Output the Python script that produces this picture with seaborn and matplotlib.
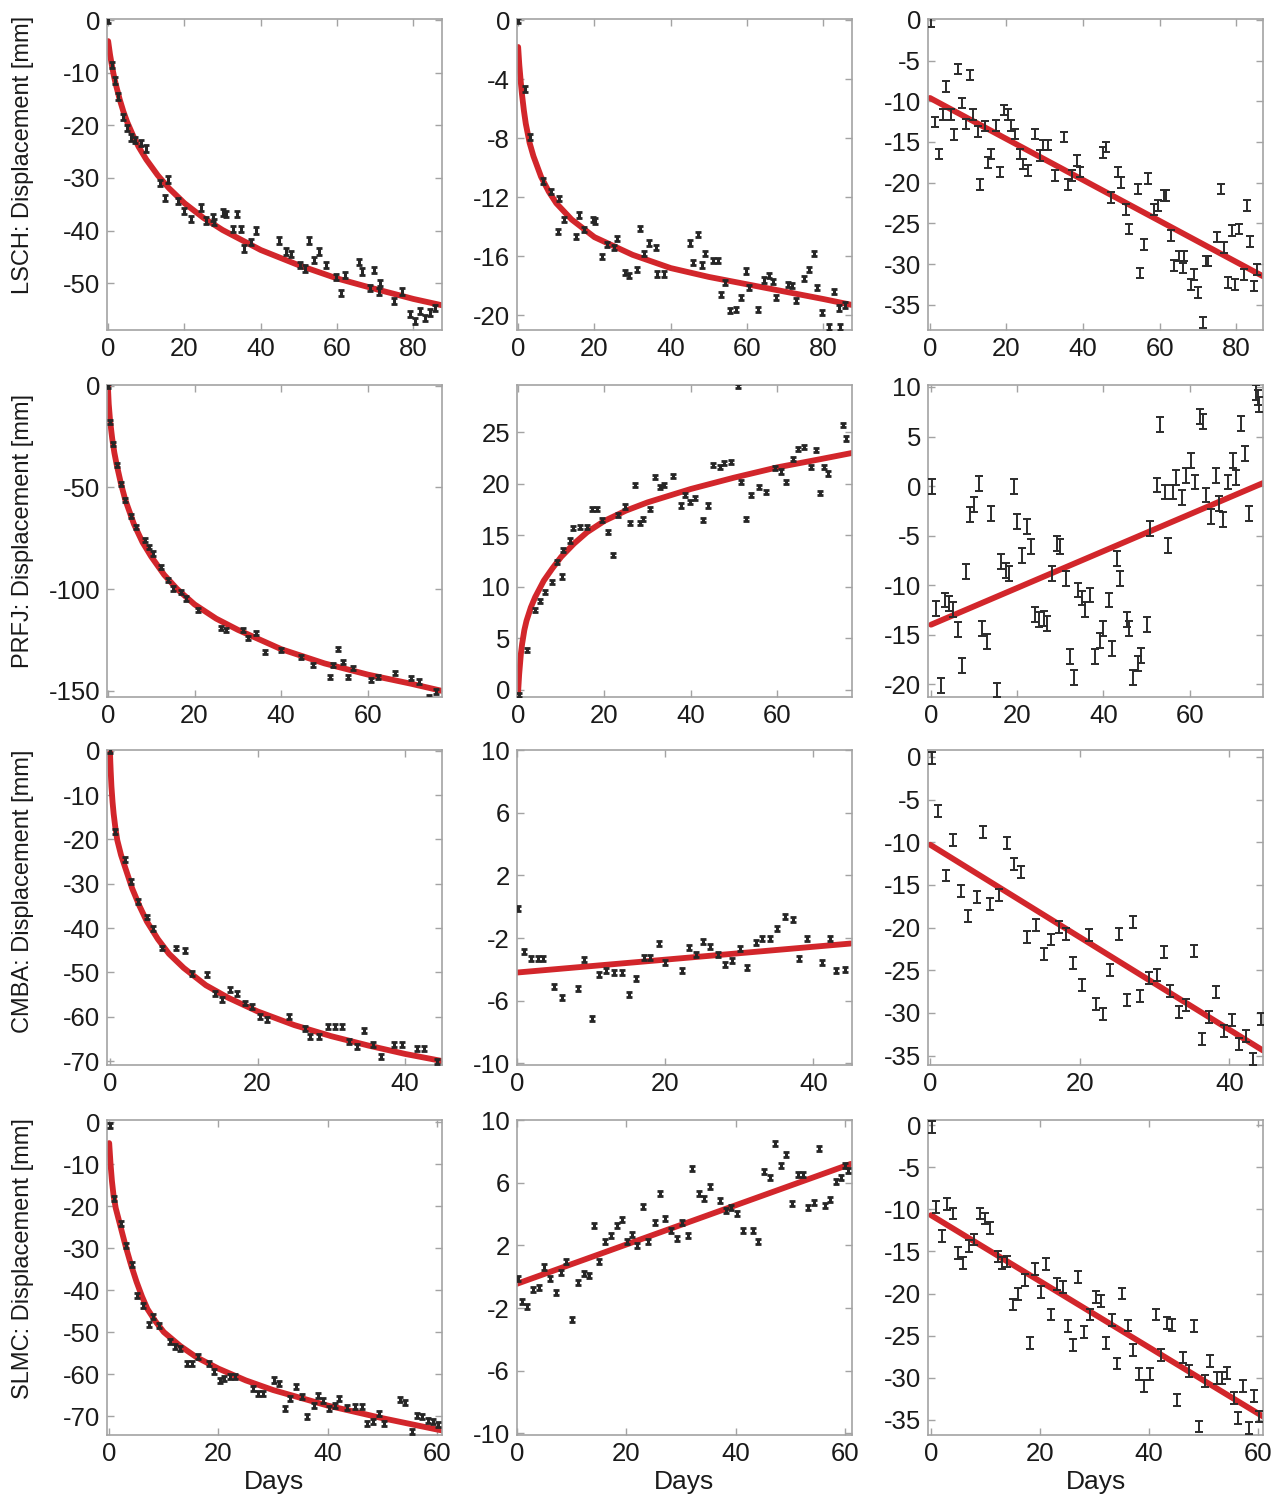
import matplotlib
matplotlib.use("Agg")
import matplotlib.pyplot as plt
import seaborn as sns

stations = ["LSCH", "PRFJ", "CMBA", "SLMC"]

# ---- LSCH ----
lsch_e_t = [0, 1, 1.7, 2.5, 3.9, 5, 6, 7, 8.7, 10, 13.5, 14.8, 15.6, 18.3, 20, 21.7, 24.3, 25.6,
            27.5, 27.8, 30, 30.8, 32.6, 33.9, 34.8, 35.7, 37.4, 38.7, 44.8, 46.5, 47.8, 50.4, 51.7,
            52.6, 53.9, 55.2, 57, 59.6, 60.9, 62.2, 65.7, 66.5, 68.7, 69.6, 70.9, 71.3, 74.8, 77,
            79.1, 80.4, 81.7, 83, 84.3, 85.7]
lsch_e_v = [0, -8.5, -11.5, -14.5, -18.4, -20.5, -22.3, -22.8, -23.4, -24.4, -31, -33.8, -30.3, -34.4,
            -36.3, -37.8, -35.6, -38.1, -37.5, -38.4, -36.6, -36.8, -39.7, -36.9, -39.7, -43.4, -42.2,
            -40, -41.9, -44, -44.4, -46.6, -47.2, -41.9, -45.6, -44, -46.6, -48.8, -51.9, -48.4, -46,
            -47.8, -50.9, -47.5, -51.6, -50, -53.4, -51.6, -55.9, -57.2, -55.3, -56.6, -55.6, -54.7]
lsch_e_fit_t = [0, 0.5, 1, 1.5, 2, 3, 4, 5, 6.5, 8, 10, 13, 16, 20, 25, 30, 40, 50, 60, 70, 80, 87.5]
lsch_e_fit_v = [-4, -6.6, -8.7, -10.6, -12.2, -15.0, -17.4, -19.4, -21.9, -24.1, -26.5, -29.5,
                -32.0, -34.8, -37.6, -39.9, -43.7, -46.6, -49.1, -51.1, -53.0, -54.2]

lsch_n_t = [0, 1.7, 3, 6.5, 8.7, 10.8, 10.4, 12.1, 15.2, 16, 17.3, 19.5, 20.2, 22, 23.4, 25.1, 26,
            28.1, 29, 31.2, 32, 32.9, 34.2, 36, 36.4, 38.1, 45, 45.9, 47.2, 48.1, 48.9, 51.1, 52.4,
            53.2, 54.1, 55.4, 57.1, 58.4, 59.7, 60.6, 62.8, 64.5, 65.8, 66.7, 67.5, 70.6, 71.9, 72.7,
            74.9, 76.2, 77.5, 78.4, 79.7, 81.4, 82.7, 84, 84.4, 85.7]
lsch_n_v = [0, -4.65, -7.9, -10.9, -11.6, -12.1, -14.3, -13.5, -14.65, -13.2, -14.2, -13.5, -13.6,
            -16, -15.2, -15.4, -14.8, -17.1, -17.3, -16.9, -14.1, -15.8, -15.1, -15.4, -17.2, -17.2,
            -15.1, -16.4, -14.5, -16.6, -15.8, -16.3, -16.3, -18.6, -17.8, -19.7, -19.6, -18.8, -17,
            -18.1, -19.6, -17.6, -17.3, -17.7, -18.8, -17.9, -18, -19, -17.5, -16.9, -15.8, -18.1,
            -19.8, -20.8, -18.4, -19.5, -20.8, -19.3]
lsch_n_fit_t = [0, 0.3, 0.7, 1, 1.5, 2, 3, 4, 6, 8, 10, 14, 20, 30, 40, 50, 60, 70, 80, 87.5]
lsch_n_fit_v = [-1.8, -3.0, -4.2, -5.0, -6.1, -7.0, -8.3, -9.2, -10.6, -11.6, -12.4, -13.5, -14.7,
                -15.9, -16.8, -17.4, -17.9, -18.4, -18.9, -19.3]

lsch_u_t = [0.4, 1.2, 2.3, 3.5, 4.3, 5.4, 6.2, 7.4, 8.4, 9.3, 10.4, 11.3, 12.5, 13.2, 14.5, 15.3, 16,
            17.3, 18.2, 19.4, 20.3, 21.1, 22.3, 23.5, 24.4, 25.7, 27.4, 28.7, 29.6, 30.9, 32.6, 35.1,
            36.1, 37, 38.3, 39.1, 45.2, 46.1, 47.4, 49.1, 50, 51.1, 52.1, 54.3, 54.9, 56, 56.9, 58.6,
            59.7, 61.2, 61.6, 62.9, 63.8, 65.1, 66.4, 66, 68.1, 69, 69.9, 71.2, 72, 72.7, 75.1, 75.9,
            76.8, 77.9, 78.9, 79.8, 80.7, 82, 82.9, 83.7, 84.6, 85.5]
lsch_u_v = [-0.2, -12.55, -16.5, -11.6, -8.2, -11.6, -14.1, -6.05, -10.2, -12.8, -6.8, -11.6, -13.7,
            -20.2, -13.05, -17.5, -16.5, -13, -18.7, -11.1, -11.6, -13, -14, -16.5, -17.7, -18.5, -14,
            -16.7, -15.4, -15.4, -19.1, -14.4, -20.2, -19.1, -17.3, -18.7, -16.3, -15.6, -21.8, -18.7,
            -20, -23.3, -25.7, -20.8, -31.1, -27.6, -19.5, -23.3, -22.8, -21.6, -21.6, -26.5, -30.2,
            -29, -29, -30.5, -32.5, -31.3, -33.5, -37.2, -29.6, -29.6, -26.7, -20.8, -28, -32.3, -25.9,
            -32.5, -25.7, -31.3, -22.8, -27.2, -32.7, -30.7]
lsch_u_fit_t = [0, 87]
lsch_u_fit_v = [-9.6, -31.5]

# ---- PRFJ ----
prfj_e_t = [0, 0.5, 1.2, 2, 3, 4, 5.4, 6.5, 8.5, 9.6, 10.4, 12.3, 13.8, 15, 16.9, 18.1, 20.8, 26.2,
            27.3, 31.2, 32.3, 34.2, 36.2, 40, 44.6, 47.3, 51.2, 51.9, 53.1, 54.2, 55.4, 56.5, 60.8,
            62.3, 66.2, 70, 71.9, 74.2, 75.8]
prfj_e_v = [0, -18, -28.6, -39, -48.5, -56, -64, -69.5, -76, -79.5, -82.5, -89, -95.6, -99.7,
            -101.3, -104.6, -110.3, -119.3, -120.1, -120.1, -124.2, -121.7, -130.7, -129.9, -133.2,
            -137.3, -143, -137.3, -129.6, -135.6, -143, -138.9, -144.6, -143, -141.3, -143.8, -145.4,
            -152.8, -150.3]
prfj_e_fit_t = [0, 0.2, 0.5, 1, 1.5, 2, 3, 4, 6, 8, 10, 13, 16, 20, 25, 30, 40, 50, 60, 70, 77.1]
prfj_e_fit_v = [0, -9, -17, -26, -33, -38.5, -48, -56, -68, -77, -84, -93, -100, -107.5, -114.5,
                -120, -129.5, -136.5, -142, -146.5, -150]

prfj_n_t = [0.15, 2.1, 4, 5.2, 6.3, 7.8, 10.2, 9, 10.5, 12.1, 12.8, 14.4, 15.9, 17.1, 18.2, 19.4,
            20.9, 22.1, 23.2, 24.8, 25.9, 27.1, 28.2, 29, 30.5, 31.7, 32.8, 33.8, 35.9, 37.8, 38.6,
            39.8, 40.9, 42.8, 44, 45.2, 46.7, 47.8, 49.4, 50.9, 51.7, 52.8, 54, 55.9, 57.5, 59.4,
            60.9, 62.1, 63.6, 64.8, 66.3, 67.8, 69, 69.8, 70.9, 71.7, 75.2, 75.9]
prfj_n_v = [-0.5, 3.9, 7.75, 8.6, 9.5, 10.5, 11, 12.4, 13.6, 14.5, 15.7, 15.8, 15.8, 17.6, 17.6,
            16.5, 15.3, 13.1, 17, 17.8, 16.2, 19.9, 16.2, 16.6, 17.6, 20.7, 19.7, 19.9, 20.8, 17.9,
            18.9, 18.2, 18.6, 16.5, 17.9, 21.8, 21.6, 22, 22.1, 29.5, 20.2, 16.6, 18.9, 19.7, 19.2,
            21.5, 21.2, 20.2, 22.4, 23.4, 23.6, 21.6, 23.3, 19.1, 21.6, 21, 25.7, 24.4]
prfj_n_fit_t = [0, 0.3, 0.7, 1, 1.5, 2, 3, 4, 6, 8, 10, 13, 16, 20, 25, 30, 40, 50, 60, 70, 77.3]
prfj_n_fit_v = [-0.6, 1.5, 3.5, 4.5, 5.8, 6.7, 8, 9, 10.6, 11.8, 12.9, 14.2, 15.3, 16.4, 17.4, 18.2,
                19.5, 20.6, 21.6, 22.4, 23]

prfj_u_t = [0.15, 1.2, 2.3, 3.2, 4.2, 5, 6.2, 7.3, 8.1, 9.1, 10, 11.2, 11.9, 13.1, 14, 15.2, 16.2,
            17.3, 18.1, 19.2, 20, 21.2, 22.2, 23.1, 24.2, 25, 26.2, 26.9, 28.1, 29.2, 30, 31.2, 32.3,
            33.1, 34.2, 35, 35.8, 36.9, 38.1, 39.2, 40, 41.2, 41.9, 43.1, 43.8, 45.4, 46, 46.9, 48.1,
            48.8, 50, 50.8, 52.3, 53.1, 54.2, 55, 56.2, 56.9, 58.1, 59.2, 60.2, 61.2, 62.3, 63.1,
            63.8, 65, 66, 66.9, 67.8, 68.8, 70, 70.8, 71.9, 72.9, 73.8, 75.4, 75.8, 76]
prfj_u_v = [-0.07, -12.4, -20.1, -11.5, -11.9, -12.5, -14.5, -18.1, -8.65, -2.9, -1.9, 0.27, -14.4,
            -15.7, -2.8, -20.6, -7.6, -8.5, -8.8, -0.07, -3.6, -7, -4.1, -6.1, -13, -13.5, -13.4,
            -13.9, -8.8, -5.8, -6.1, -9.3, -17.2, -19.3, -10.5, -11.3, -12.5, -11, -17.2, -15.6, -14.4,
            -11.5, -16.4, -7.3, -9.3, -13.5, -14.4, -19.3, -17.9, -17.1, -14, -4.3, 0.1, 6.2, -0.6, -6,
            -0.6, 0.9, -1.2, 1.1, 2.6, 0.4, 7, 6.5, -0.9, -3.1, 1.1, -1.75, -3.4, 0.4, 2.6, 0.9, 6.3,
            3.3, -2.8, 9.4, 8.9, 8.2]
prfj_u_fit_t = [0, 77]
prfj_u_fit_v = [-14.0, 0.3]

# ---- CMBA ----
cmba_e_t = [0, 0.7, 2, 2.9, 3.8, 5, 5.9, 7, 9, 10.2, 11.1, 13.1, 14.3, 15.2, 16.3, 17.2, 18.3,
            19.2, 20.4, 21.3, 24.2, 26.5, 27.1, 28.3, 29.6, 30.5, 31.4, 32.4, 33.5, 34.4, 35.7, 36.7,
            38.5, 39.6, 41.6, 42.5, 44.3]
cmba_e_v = [0, -18.2, -24.5, -29.5, -34, -37.5, -40, -44.5, -44.5, -45.1, -50.2, -50.5, -54.7,
            -56.2, -53.9, -54.7, -56.9, -57.7, -59.9, -60.7, -59.9, -62.6, -64.4, -64.4, -62.2, -62.2,
            -62.2, -65.6, -66.7, -63.2, -66.3, -68.9, -66.3, -66.2, -67.1, -67.1, -70.1]
cmba_e_fit_t = [0, 0.05, 0.1, 0.2, 0.35, 0.5, 0.75, 1, 1.5, 2, 3, 4, 5, 6.5, 8, 10, 13, 16, 20,
                25, 30, 35, 40, 45]
cmba_e_fit_v = [0, -2.5, -4.5, -8, -11.5, -14.2, -17.6, -20.2, -23.5, -26, -31, -35, -38.5, -42.5,
                -45.8, -49, -52.9, -55.7, -58.8, -61.9, -64.4, -66.5, -68.4, -70]

cmba_n_t = [0.1, 1, 1.9, 2.8, 3.5, 5, 6.1, 8.2, 9.1, 10.1, 11.1, 12, 13.1, 14.2, 15.1, 16.1, 17.1,
            18, 19.1, 20, 22.2, 23.2, 24.1, 25.1, 26.1, 27.1, 28.1, 29, 30.1, 31.1, 32.2, 33, 34.1,
            35.1, 36.1, 37.2, 38.1, 39.1, 41.1, 42.2, 43.1, 44.2]
cmba_n_v = [-0.13, -2.86, -3.33, -3.33, -3.33, -5.07, -5.78, -5.2, -3.37, -7.16, -4.35, -4.07,
            -4.18, -4.18, -5.63, -4.56, -3.22, -3.22, -2.37, -3.58, -4.07, -2.58, -3.07, -2.22, -2.54,
            -3.07, -3.71, -3.43, -2.64, -3.86, -2.3, -2.05, -2.05, -1.36, -0.62, -0.83, -3.33, -2,
            -3.58, -2, -4.07, -4.03]
cmba_n_fit_t = [0, 45]
cmba_n_fit_v = [-4.2, -2.35]

cmba_u_t = [0.2, 1.1, 2.1, 3.1, 4.1, 5.1, 6.2, 7.1, 8, 9.2, 10.2, 11.2, 12.1, 13, 14.2, 15.2, 16.2,
            17.2, 18.1, 19.1, 20.3, 21.2, 22.1, 23.1, 24.1, 25.2, 26.3, 27.1, 28.1, 29.2, 30.3, 31.3,
            32.1, 33.3, 34.2, 35.3, 36.3, 37.3, 38.2, 39.3, 40.3, 41.3, 42.2, 43.2, 44.2]
cmba_u_v = [-0.16, -6.4, -13.9, -9.7, -15.7, -18.6, -16.4, -8.85, -17.2, -16.2, -10.1, -12.5, -13.5,
            -21.1, -19.7, -23.1, -21.4, -19.9, -20.8, -24.2, -26.7, -20.9, -28.9, -30.1, -25, -20.8,
            -28.5, -19.3, -28, -25.9, -25.6, -22.9, -27.4, -29.9, -29.1, -22.8, -33.1, -30.5, -27.5,
            -32.1, -30.8, -33.6, -32.7, -35.4, -30.7]
cmba_u_fit_t = [0, 44.5]
cmba_u_fit_v = [-10.3, -34.4]

# ---- SLMC ----
slmc_e_t = [0.2, 0.8, 2.1, 3.1, 4.1, 5.1, 6.2, 7.2, 8.1, 9.2, 11.2, 12.1, 13, 14.2, 15.1, 16.3,
            18.2, 19.1, 20.2, 21, 22.1, 23, 26.4, 27.3, 28.2, 30.1, 31, 32.2, 33.1, 34.2, 35.2, 36.2,
            37.4, 38.3, 39.2, 40.3, 41.3, 42.1, 43.5, 45, 46.2, 47.1, 48.2, 49.3, 50.2, 53.2, 54.1,
            55.4, 56.3, 57.2, 58.4, 59.3, 60.2]
slmc_e_v = [-0.7, -18.2, -24.1, -29.3, -34, -41.2, -43.6, -48.2, -46.3, -48.5, -52.3, -53.5, -53.9,
            -57.5, -57.5, -55.9, -57.5, -59.4, -61.6, -61, -60.6, -60.6, -63.4, -64.6, -64.6, -61.4,
            -62.2, -68.3, -65.8, -63, -65.4, -70.2, -67.4, -65, -66.2, -68.2, -67.4, -65.8, -68, -67.8,
            -67.8, -71.7, -71.3, -69.4, -71.7, -66, -66.7, -73.7, -69.8, -70.2, -71, -71.3, -72.1]
slmc_e_fit_t = [0, 0.25, 0.5, 0.8, 1.2, 1.7, 2.2, 3, 4, 5, 6, 7, 8.5, 10, 13, 16, 20, 25, 30, 40,
                50, 60, 60.9]
slmc_e_fit_v = [-5, -10, -14, -17.5, -20.5, -23, -25.5, -29.5, -34, -38, -41.5, -44.5, -47.5, -50,
                -53.3, -56, -58.7, -61.5, -63.8, -67.5, -70.5, -73.2, -73.4]

slmc_n_t = [0.1, 1, 1.9, 3, 4.1, 5, 6.1, 7.1, 8, 8.9, 10, 11.1, 12.2, 13.2, 14.1, 15, 16, 17.1,
            18.2, 19.1, 20.1, 21.1, 22, 23.1, 24, 25.2, 26.1, 27, 28.1, 29.2, 30.2, 31.2, 32, 33.3,
            34.2, 35.3, 37.1, 38.1, 39.1, 40.2, 41.2, 43.2, 44, 45.1, 46.2, 47.2, 48.3, 49.2, 50.3,
            51.3, 52.3, 53.2, 54.2, 55.1, 56.2, 57.1, 58.2, 59.1, 60, 60.4]
slmc_n_v = [-0.13, -1.58, -1.88, -0.81, -0.66, 0.62, -0.09, -0.98, 0.3, 0.94, -2.73, -0.38, 0.19,
            0.09, 3.24, 0.98, 2.22, 2.6, 3.28, 3.67, 2.22, 2.69, 2.0, 4.46, 2.22, 3.45, 5.31, 3.71,
            2.96, 2.43, 3.45, 2.64, 6.91, 5.31, 4.99, 5.74, 4.88, 4.24, 4.39, 4.03, 2.96, 2.96, 2.26,
            6.7, 6.31, 8.51, 7.12, 7.8, 4.67, 6.52, 6.52, 4.39, 4.73, 8.19, 4.56, 4.95, 6.1, 6.31,
            7.12, 6.8]
slmc_n_fit_t = [0, 61]
slmc_n_fit_v = [-0.45, 7.2]

slmc_u_t = [0.1, 0.9, 2, 3, 4, 5, 5.9, 7, 7.9, 9, 9.9, 10.9, 12.2, 13.1, 14, 15.1, 16, 17.2, 18.2,
            19.1, 20.1, 21.1, 22.1, 23.2, 24.2, 25.2, 26.1, 27, 28.1, 29.2, 30.3, 31.1, 32.1, 33.2,
            34.1, 35, 36.2, 37.1, 38.2, 39.1, 40.1, 41.3, 42.1, 43.2, 44.2, 45.2, 46.3, 47.4, 48.3,
            49.2, 50.3, 51.2, 52.4, 53.3, 54.3, 55.5, 56.4, 57.3, 58.4, 59.3, 60.2]
slmc_u_v = [-0.2, -9.7, -13.2, -9.4, -10.5, -15.2, -16.4, -14.4, -13.6, -10.5, -11.1, -12.2, -15.6,
            -16.4, -16.2, -21.3, -20.1, -18.4, -25.9, -17.1, -19.8, -16.5, -22.5, -18.9, -19.2, -23.9,
            -26.1, -18, -24.6, -22.5, -20.4, -20.9, -25.9, -23.1, -28.3, -20, -23.8, -26.7, -29.6, -31,
            -29.6, -22.5, -27.3, -23.5, -23.7, -32.6, -27.6, -29.2, -23.9, -35.8, -30.4, -28, -30, -30,
            -29.4, -32.4, -34.8, -31, -36, -32.2, -34.6]
slmc_u_fit_t = [0, 60.9]
slmc_u_fit_v = [-10.7, -34.6]

# typical 1-sigma error per panel [mm] (E, N, U)
errors = [[0.6, 0.18, 0.65],
          [1.0, 0.2, 0.75],
          [0.55, 0.16, 0.7],
          [0.6, 0.16, 0.7]]

series = [
    [(lsch_e_t, lsch_e_v, lsch_e_fit_t, lsch_e_fit_v),
     (lsch_n_t, lsch_n_v, lsch_n_fit_t, lsch_n_fit_v),
     (lsch_u_t, lsch_u_v, lsch_u_fit_t, lsch_u_fit_v)],
    [(prfj_e_t, prfj_e_v, prfj_e_fit_t, prfj_e_fit_v),
     (prfj_n_t, prfj_n_v, prfj_n_fit_t, prfj_n_fit_v),
     (prfj_u_t, prfj_u_v, prfj_u_fit_t, prfj_u_fit_v)],
    [(cmba_e_t, cmba_e_v, cmba_e_fit_t, cmba_e_fit_v),
     (cmba_n_t, cmba_n_v, cmba_n_fit_t, cmba_n_fit_v),
     (cmba_u_t, cmba_u_v, cmba_u_fit_t, cmba_u_fit_v)],
    [(slmc_e_t, slmc_e_v, slmc_e_fit_t, slmc_e_fit_v),
     (slmc_n_t, slmc_n_v, slmc_n_fit_t, slmc_n_fit_v),
     (slmc_u_t, slmc_u_v, slmc_u_fit_t, slmc_u_fit_v)],
]

# axis setup: (xlim, xticks, ylim, yticks)
axis_cfg = [
    [((-0.3, 87.5), [0, 20, 40, 60, 80], (-58.9, 0.2), [0, -10, -20, -30, -40, -50]),
     ((-0.3, 87.5), [0, 20, 40, 60, 80], (-21.0, 0.1), [0, -4, -8, -12, -16, -20]),
     ((-0.5, 87.0), [0, 20, 40, 60, 80], (-38.1, 0.1), [0, -5, -10, -15, -20, -25, -30, -35])],
    [((-0.2, 77.1), [0, 20, 40, 60], (-153, 0.3), [0, -50, -100, -150]),
     ((-0.2, 77.3), [0, 20, 40, 60], (-0.7, 29.6), [0, 5, 10, 15, 20, 25]),
     ((-0.7, 77.0), [0, 20, 40, 60], (-21.3, 10.2), [10, 5, 0, -5, -10, -15, -20])],
    [((-0.4, 45.0), [0, 20, 40], (-70.9, 0.2), [0, -10, -20, -30, -40, -50, -60, -70]),
     ((0.0, 45.2), [0, 20, 40], (-10.1, 10.0), [10, 6, 2, -2, -6, -10]),
     ((-0.3, 44.5), [0, 20, 40], (-36.1, 0.8), [0, -5, -10, -15, -20, -25, -30, -35])],
    [((-0.4, 60.9), [0, 20, 40, 60], (-74.5, 0.5), [0, -10, -20, -30, -40, -50, -60, -70]),
     ((0.0, 61.2), [0, 20, 40, 60], (-10.1, 10.0), [10, 6, 2, -2, -6, -10]),
     ((-0.55, 60.9), [0, 20, 40, 60], (-36.8, 0.6), [0, -5, -10, -15, -20, -25, -30, -35])],
]

sns.set_theme(style="ticks")
plt.rcParams["font.family"] = ["Liberation Sans", "DejaVu Sans"]
plt.rcParams["axes.unicode_minus"] = False

W, H = 1283, 1500
col_left = [107, 517, 928]
col_w = 335
row_top = [19, 385, 750, 1120]
row_bot = [330, 697, 1065, 1435]
ylabel_y = [0.563, 0.532, 0.552, 0.559]

fig = plt.figure(figsize=(W / 100, H / 100), dpi=100)
red = "#d2262b"
spine_c = "#a3a3a3"
text_c = "#1a1a1a"

for r in range(4):
    for c in range(3):
        rect = [col_left[c] / W, 1 - row_bot[r] / H, col_w / W, (row_bot[r] - row_top[r]) / H]
        ax = fig.add_axes(rect)
        t, v, ft, fv = series[r][c]
        xlim, xt, ylim, yt = axis_cfg[r][c]

        sns.lineplot(x=ft, y=fv, ax=ax, color=red, linewidth=4.2, zorder=2)
        # horizontal components have tiny errors -> draw them as heavier blobs
        if c == 2:
            ax.errorbar(t, v, yerr=errors[r][c], fmt="none", ecolor="#2b2b2b",
                        elinewidth=1.4, capsize=2.8, capthick=1.4, zorder=3)
        else:
            ax.errorbar(t, v, yerr=errors[r][c], fmt="none", ecolor="#262626",
                        elinewidth=2.2, capsize=2.2, capthick=2.0, zorder=3)

        ax.set_xlim(*xlim)
        ax.set_ylim(*ylim)
        ax.set_xticks(xt)
        ax.set_yticks(yt)
        ax.set_xticklabels([str(x) for x in xt])
        ax.set_yticklabels([str(y) for y in yt])
        ax.tick_params(direction="in", length=5, width=1, color=spine_c, top=True, right=True,
                       labelsize=18.5, labelcolor=text_c, pad=5)
        for s in ax.spines.values():
            s.set_color(spine_c)
            s.set_linewidth(1.2)
        ax.set_xlabel("")
        ax.set_ylabel("")

        if c == 0:
            ax.set_ylabel(f"{stations[r]}: Displacement [mm]", fontsize=17, color=text_c,
                          va="center")
            ax.yaxis.set_label_coords(-0.252, ylabel_y[r])
        if r == 3:
            ax.set_xlabel("Days", fontsize=19, color=text_c)
            ax.xaxis.set_label_coords(0.5, -0.112)

fig.savefig("out.png", dpi=100)
